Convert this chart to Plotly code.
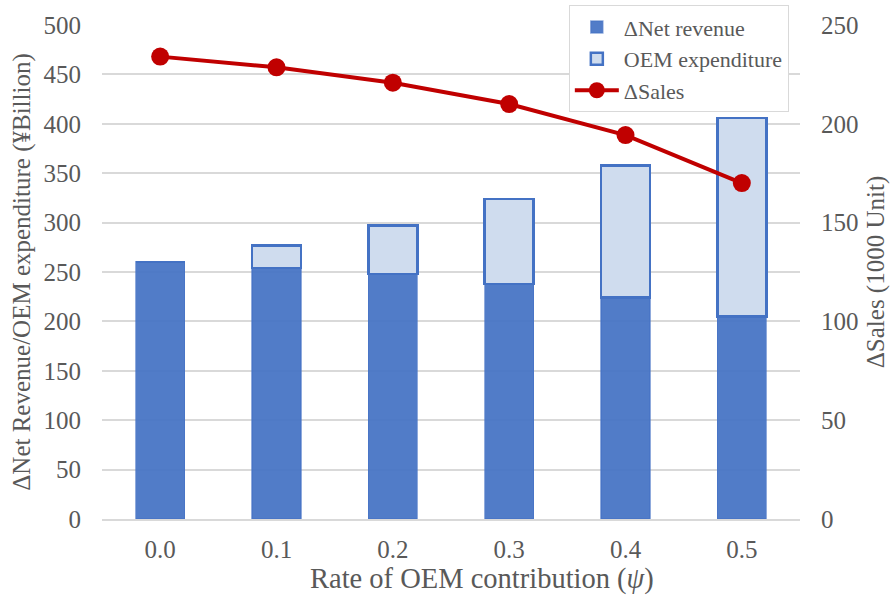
import plotly.graph_objects as go

categories = ["0.0", "0.1", "0.2", "0.3", "0.4", "0.5"]
net_revenue = [260, 254, 248, 238, 224, 205]
oem_expenditure = [0, 23, 49, 86, 134, 201]
sales = [234, 228.6, 220.8, 210, 194.3, 170]

FONT = "Liberation Serif"
GREY = "#595959"
BLUE = "#4472C4"

fig = go.Figure()
fig.add_trace(go.Bar(
    x=categories, y=net_revenue, name="ΔNet revenue",
    marker=dict(color="rgba(68,114,196,0.93)", line=dict(color="rgba(68,114,196,0.6)", width=1.5)),
))
fig.add_trace(go.Bar(
    x=categories, y=oem_expenditure, name="OEM expenditure",
    marker=dict(color="#CFDCEE", line=dict(color=BLUE, width=2.5)),
))
fig.add_trace(go.Scatter(
    x=categories, y=sales, name="ΔSales", yaxis="y2", mode="lines+markers",
    line=dict(color="#C00000", width=4),
    marker=dict(color="#C00000", size=18),
))

fig.update_layout(
    width=895, height=597,
    margin=dict(l=102, r=95, t=25, b=78, autoexpand=False),
    barmode="stack", bargap=0.58,
    plot_bgcolor="white", paper_bgcolor="white",
    font=dict(family=FONT, size=25, color=GREY),
    showlegend=True,
    legend=dict(
        x=0.984, y=1.04, xanchor="right", yanchor="top",
        bgcolor="white", bordercolor="#D9D9D9", borderwidth=1,
        font=dict(family=FONT, size=22, color=GREY),
        tracegroupgap=0, itemwidth=44, traceorder="normal",
    ),
    xaxis=dict(
        type="category", showgrid=False, showline=True, linecolor="#D9D9D9", linewidth=1.5,
        ticks="", ticklabelstandoff=7, automargin=False,
        tickfont=dict(family=FONT, size=25, color=GREY),
    ),
    yaxis=dict(
        range=[0, 500], dtick=50, showgrid=True, gridcolor="#D9D9D9", gridwidth=1.5,
        zeroline=False, ticks="", ticklabelstandoff=20, automargin=False,
        tickfont=dict(family=FONT, size=25, color=GREY),
        title=dict(text="ΔNet Revenue/OEM expenditure (¥Billion)", standoff=5,
                   font=dict(family=FONT, size=25, color=GREY)),
    ),
    yaxis2=dict(
        range=[0, 250], dtick=50, overlaying="y", side="right", showgrid=False,
        zeroline=False, ticks="", ticklabelstandoff=20, automargin=False,
        tickfont=dict(family=FONT, size=25, color=GREY),
        title=dict(text="ΔSales (1000 Unit)", standoff=8,
                   font=dict(family=FONT, size=25, color=GREY)),
    ),
    annotations=[dict(
        text="Rate of OEM contribution (<i>ψ</i>)", xref="paper", yref="paper",
        x=0.544, y=-0.121, xanchor="center", yanchor="middle", showarrow=False,
        font=dict(family=FONT, size=28.5, color=GREY),
    )],
)

fig.write_html("out.html")
